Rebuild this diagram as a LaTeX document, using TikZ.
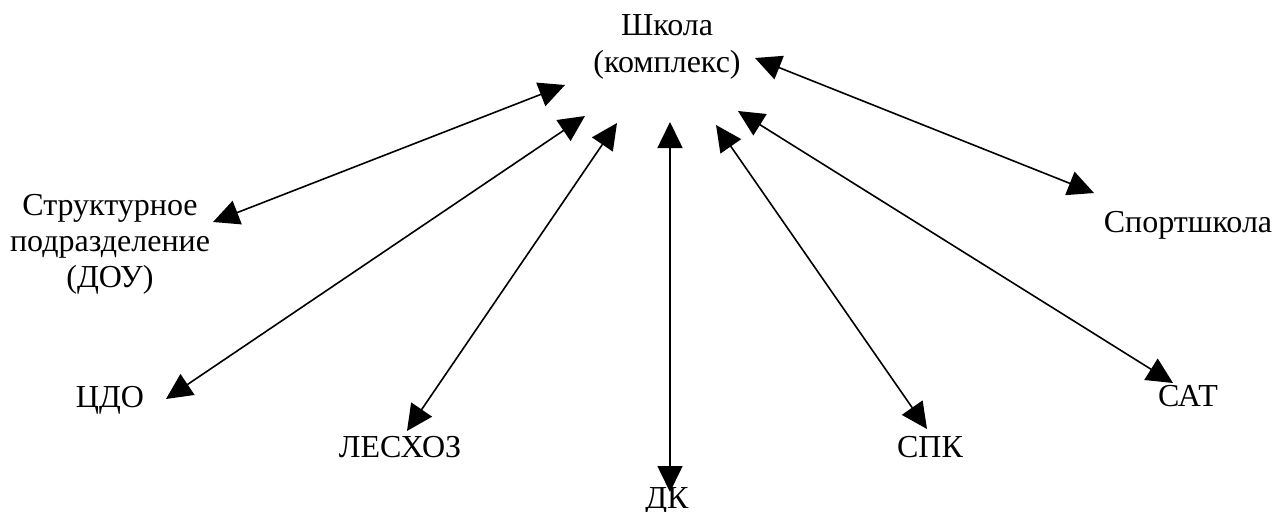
\documentclass[tikz,border=0pt]{standalone}
\usepackage{fontspec}
\setmainfont{Liberation Serif}
\usetikzlibrary{arrows.meta}
\tikzset{
  label text/.style={inner sep=0pt, anchor=base, align=center,
    font=\fontsize{32}{36}\selectfont},
  link/.style={line width=1.6pt, {Triangle[length=26pt,width=25pt]}-{Triangle[length=26pt,width=25pt]}}
}
\begin{document}
\begin{tikzpicture}[x=1pt,y=-1pt]
\useasboundingbox (0,0) rectangle (1276,511);
% labels (multi-line nodes sit on the baseline of their last line)
\node[label text] (school) at (667,72) {Школа\\(комплекс)};
\node[label text] (dou) at (110,287) {Структурное\\подразделение\\(ДОУ)};
\node[label text] (cdo) at (110,407) {ЦДО};
\node[label text] (les) at (400,457) {ЛЕСХОЗ};
\node[label text] (dk) at (667,508) {ДК};
\node[label text] (spk) at (930,457) {СПК};
\node[label text] (sat) at (1188,406) {САТ};
\node[label text] (sport) at (1188,232) {Спортшкола};
% arrow ends
\coordinate (s-dou) at (565,85);   \coordinate (e-dou) at (213,222);
\coordinate (s-cdo) at (585,116);  \coordinate (e-cdo) at (166,399);
\coordinate (s-les) at (617,123);  \coordinate (e-les) at (407,431);
\coordinate (s-dk) at (670,122);   \coordinate (e-dk) at (670,492);
\coordinate (s-spk) at (716,125);  \coordinate (e-spk) at (927,429);
\coordinate (s-sat) at (738,111);  \coordinate (e-sat) at (1173,383);
\coordinate (s-sport) at (755,58); \coordinate (e-sport) at (1094,193);
% links
\foreach \n in {dou,cdo,les,dk,spk,sat,sport}
  \draw[link] (s-\n) -- (e-\n);
\end{tikzpicture}
\end{document}
